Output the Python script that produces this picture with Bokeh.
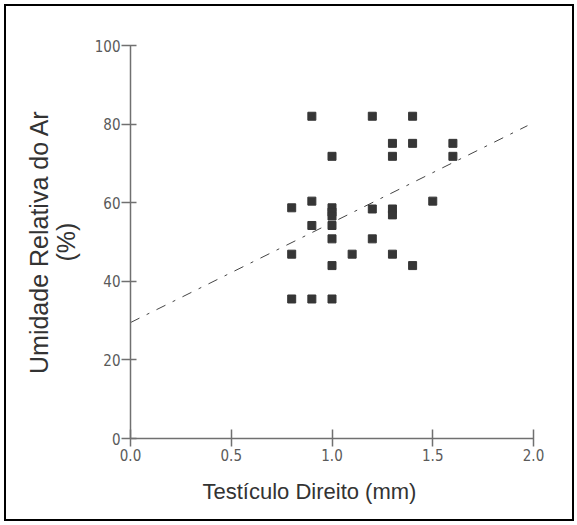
from bokeh.plotting import figure
from bokeh.embed import file_html
from bokeh.resources import INLINE
from bokeh.models import FixedTicker, Range1d, Title

# Data
testiculo_direito = [0.9, 1.2, 1.4, 1.3, 1.4, 1.6, 1.0, 1.3, 1.6,
                     0.9, 0.8, 1.0, 1.0, 1.0, 1.2, 1.3, 1.3, 1.5,
                     0.9, 1.0, 1.0, 1.2, 0.8, 1.1, 1.3, 1.0, 1.4,
                     0.8, 0.9, 1.0]
umidade_relativa = [82.0, 82.0, 82.0, 75.1, 75.1, 75.1, 71.8, 71.8, 71.8,
                    60.4, 58.7, 58.7, 57.6, 56.6, 58.4, 58.4, 56.9, 60.4,
                    54.2, 54.2, 50.8, 50.8, 46.9, 46.9, 46.9, 44.0, 44.0,
                    35.5, 35.5, 35.5]

fit_x = [0.0, 1.97]
fit_y = [29.5, 79.6]

x_ticks = [0.0, 0.5, 1.0, 1.5, 2.0]
y_ticks = [0, 20, 40, 60, 80, 100]

x_title = "Testículo Direito (mm)"
y_title = "Umidade Relativa do Ar\n(%)"

tick_font = "Liberation Sans Narrow, DejaVu Sans Condensed, Liberation Sans, sans-serif"
label_font = "Liberation Sans, Arial, sans-serif"

p = figure(frame_width=403, frame_height=393,
           x_range=Range1d(0, 2), y_range=Range1d(0, 100),
           output_backend="svg", toolbar_location=None,
           min_border_left=124, min_border_top=39,
           min_border_right=39, min_border_bottom=81,
           background_fill_color="white", border_fill_color="white")
p.styles = {"border": "2px solid black", "margin": "4px"}
p.outline_line_color = None
p.grid.visible = False

p.line(fit_x, fit_y, line_color="#444444", line_width=1, line_dash="10 8 3 8")
p.scatter(testiculo_direito, umidade_relativa, marker="square", size=8,
          fill_color="#363636", line_color="#363636")

axis_color = "#707070"
for ax in (p.xaxis[0], p.yaxis[0]):
    ax.axis_line_color = axis_color
    ax.axis_line_width = 1.5
    ax.major_tick_line_color = axis_color
    ax.major_tick_line_width = 1.5
    ax.minor_tick_line_color = None
    ax.major_label_text_font = tick_font
    ax.major_label_text_font_size = "15px"
    ax.major_label_text_color = "#5a5a5a"
    ax.axis_label_text_font = label_font
    ax.axis_label_text_font_style = "normal"
    ax.axis_label_text_color = "#333333"

p.xaxis.ticker = FixedTicker(ticks=x_ticks)
p.xaxis.major_label_overrides = {t: f"{t:.1f}" for t in x_ticks}
p.xaxis.major_tick_in = 9
p.xaxis.major_tick_out = 8
p.xaxis.major_label_standoff = 2

# x-axis title, placed slightly left of the frame centre as in the reference
xt = Title(text=x_title, align="left", offset=72, standoff=27,
           text_font=label_font, text_font_size="22px",
           text_font_style="normal", text_color="#333333")
p.add_layout(xt, "below")

p.yaxis.ticker = FixedTicker(ticks=y_ticks)
p.yaxis.major_tick_in = 6
p.yaxis.major_tick_out = 9
p.yaxis.major_label_standoff = 1
p.yaxis.axis_label = y_title
p.yaxis.axis_label_text_font_size = "25px"
p.yaxis.axis_label_text_line_height = 0.95
p.yaxis.axis_label_standoff = 12

open("out.html", "w").write(file_html(p, INLINE))
